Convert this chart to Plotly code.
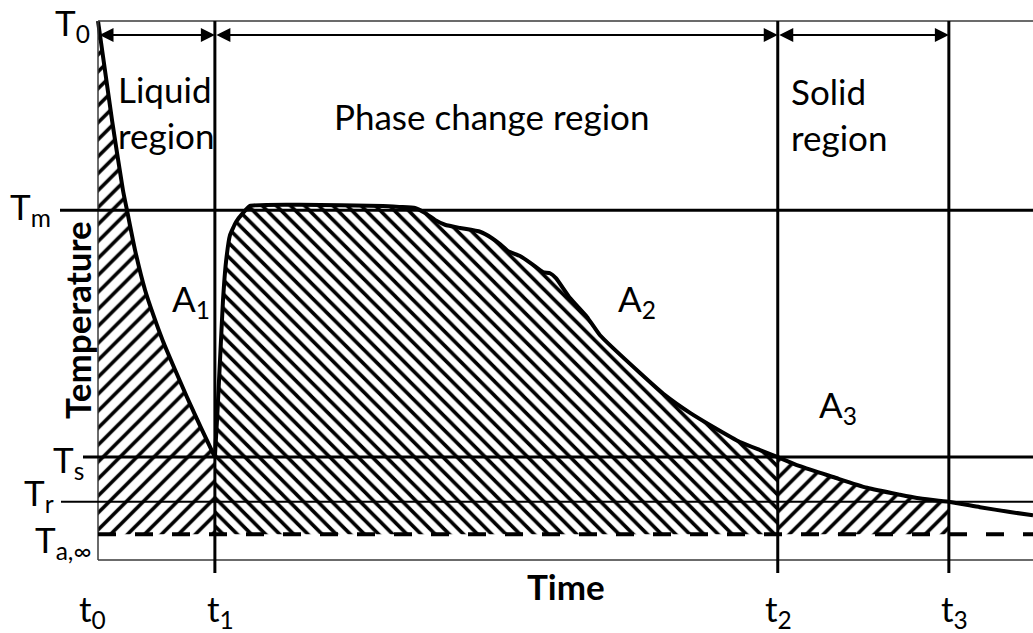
import plotly.graph_objects as go

W, H = 1033, 633

# ---------------- data (arbitrary units) ----------------
time_labels = ["t<sub>0</sub>", "t<sub>1</sub>", "t<sub>2</sub>", "t<sub>3</sub>"]
time_values = [0.0, 12.5, 72.7, 91.0]

temp_labels = ["T<sub>0</sub>", "T<sub>m</sub>", "T<sub>s</sub>", "T<sub>r</sub>", "T<sub>a,∞</sub>"]
temp_values = [100.0, 64.9, 19.1, 10.8, 4.8]

liquid_time = [0.0, 1.50, 2.67, 3.10, 3.96, 5.03, 5.99, 6.95, 8.24, 9.52, 11.02, 12.5]
liquid_temp = [100.0, 81.6, 68.6, 64.9, 57.5, 50.1, 45.1, 40.6, 35.3, 30.2, 24.5, 19.1]

phase_time = [12.5, 12.73, 13.05, 13.37, 13.69, 14.12, 14.76, 15.51, 16.26, 21.60, 30.48,
              32.30, 33.90, 34.97, 36.04, 37.11, 38.72, 40.86, 42.14, 42.99, 43.85, 45.13,
              46.42, 47.59, 48.34, 48.98, 50.48, 52.30, 53.69, 57.97, 60.64, 63.32, 65.99,
              68.66, 70.80, 72.7]
phase_temp = [19.1, 26.0, 37.1, 48.2, 55.3, 60.3, 62.7, 64.4, 65.7, 65.9, 65.7,
              65.5, 65.3, 64.4, 63.1, 62.2, 61.6, 60.9, 59.7, 58.6, 57.3, 56.4,
              54.9, 53.4, 53.2, 52.3, 48.6, 45.1, 41.7, 34.7, 30.6, 27.3, 24.5,
              21.9, 20.4, 19.1]

solid_time = [72.7, 75.08, 78.61, 82.25, 85.78, 87.59, 91.0]
solid_temp = [19.1, 17.4, 15.4, 13.4, 12.1, 11.5, 10.8]

tail_time = [91.0, 94.33, 97.54, 100.0]
tail_temp = [10.8, 9.8, 8.9, 8.3]

region_names = ["Liquid<br>region", "Phase change region", "Solid<br>region"]
area_labels = ["A<sub>1</sub>", "A<sub>2</sub>", "A<sub>3</sub>"]
axis_titles = ["Time", "Temperature"]

# ---------------- layout helpers (pixel -> axis units, for decorations) ----------------
def xp(px):
    return (px - 98) / 9.35

def yp(py):
    return (560 - py) / 5.39

T_a = temp_values[4]
FONT = "Lato"
FS = 35

fig = go.Figure()

# hatched areas
hatch = [
    (liquid_time, liquid_temp, "/", 12, 0.3),
    (phase_time, phase_temp, "\\", 10, 0.36),
    (solid_time, solid_temp, "/", 12, 0.3),
]
for tx, ty, shp, sz, sol in hatch:
    fig.add_trace(go.Scatter(
        x=list(tx) + [tx[-1], tx[0]],
        y=list(ty) + [T_a, T_a],
        mode="lines", line=dict(width=0), fill="toself",
        fillcolor="white",
        fillpattern=dict(shape=shp, fgcolor="black", bgcolor="white", fgopacity=1,
                         size=sz, solidity=sol),
        hoverinfo="skip",
    ))

# main curve (segments)
segments = [
    (liquid_time, liquid_temp, 0.6),
    (phase_time, phase_temp, 0.4),
    (solid_time + tail_time[1:], solid_temp + tail_temp[1:], 0.6),
]
for sx, sy, sm in segments:
    fig.add_trace(go.Scatter(x=sx, y=sy, mode="lines",
                             line=dict(color="black", width=4, shape="spline", smoothing=sm),
                             hoverinfo="skip"))

shapes = []
frame_col = "#3a3a3a"
# frame
shapes.append(dict(type="line", x0=0, x1=101, y0=temp_values[0], y1=temp_values[0],
                   line=dict(color=frame_col, width=1.5)))
shapes.append(dict(type="line", x0=0, x1=101, y0=0, y1=0,
                   line=dict(color=frame_col, width=1.5)))
shapes.append(dict(type="line", x0=0, x1=0, y0=0, y1=temp_values[0],
                   line=dict(color=frame_col, width=1.5)))
# vertical time lines
for t in time_values[1:]:
    shapes.append(dict(type="line", x0=t, x1=t, y0=yp(573), y1=temp_values[0],
                       line=dict(color="black", width=3)))
# horizontal temperature lines
starts = {1: 60, 2: 83, 3: 61}
widths = {1: 3, 2: 3, 3: 2}
for i in (1, 2, 3):
    shapes.append(dict(type="line", x0=xp(starts[i]), x1=101, y0=temp_values[i], y1=temp_values[i],
                       line=dict(color="black", width=widths[i])))
# ambient dashed
shapes.append(dict(type="line", x0=0, x1=101, y0=T_a, y1=T_a,
                   line=dict(color="black", width=4, dash="18px,19px")))

ann = []
# region arrows
ya = yp(35)
for i in range(3):
    ann.append(dict(x=time_values[i + 1], y=ya, ax=time_values[i], ay=ya,
                    xref="x", yref="y", axref="x", ayref="y", text="",
                    showarrow=True, arrowside="end+start", arrowhead=2, startarrowhead=2,
                    arrowsize=1.4, startarrowsize=1.4, arrowwidth=2, arrowcolor="black",
                    standoff=0, startstandoff=0))

font = dict(family=FONT, size=FS, color="black")
# temperature labels
lab_right = [92, 53, 86, 56, 93]
lab_y = [24, 208, 461, 494, 541]
for lbl, r, py in zip(temp_labels, lab_right, lab_y):
    ann.append(dict(x=xp(r), y=yp(py), text=lbl, showarrow=False, xanchor="right",
                    yanchor="middle", font=font))
# time labels
time_px = [92, 220, 778, 954]
for lbl, px in zip(time_labels, time_px):
    ann.append(dict(x=xp(px), y=yp(610), text=lbl, showarrow=False, xanchor="center",
                    yanchor="middle", font=font))
# region names
ann.append(dict(x=xp(116), y=yp(112), text=region_names[0], showarrow=False, xanchor="left",
                yanchor="middle", align="left", font=font))
ann.append(dict(x=xp(491), y=yp(116), text=region_names[1], showarrow=False, xanchor="center",
                yanchor="middle", font=font))
ann.append(dict(x=xp(789), y=yp(114), text=region_names[2], showarrow=False, xanchor="left",
                yanchor="middle", align="left", font=font))
# area labels
for lbl, (px, py) in zip(area_labels, [(191, 300), (637, 300), (838, 406)]):
    ann.append(dict(x=xp(px), y=yp(py), text=lbl, showarrow=False, xanchor="center",
                    yanchor="middle", font=font))
# axis titles
ann.append(dict(x=xp(566), y=yp(586), text="<b>" + axis_titles[0] + "</b>", showarrow=False,
                xanchor="center", yanchor="middle", font=font))
ann.append(dict(x=xp(77), y=yp(320), text="<b>" + axis_titles[1] + "</b>", showarrow=False,
                xanchor="center", yanchor="middle", textangle=-90, font=font))

fig.update_layout(
    width=W, height=H, margin=dict(l=0, r=0, t=0, b=0),
    paper_bgcolor="white", plot_bgcolor="white", showlegend=False,
    xaxis=dict(range=[xp(0), xp(W)], visible=False, fixedrange=True),
    yaxis=dict(range=[yp(H), yp(0)], visible=False, fixedrange=True),
    shapes=shapes, annotations=ann,
)

fig.write_html("out.html")
